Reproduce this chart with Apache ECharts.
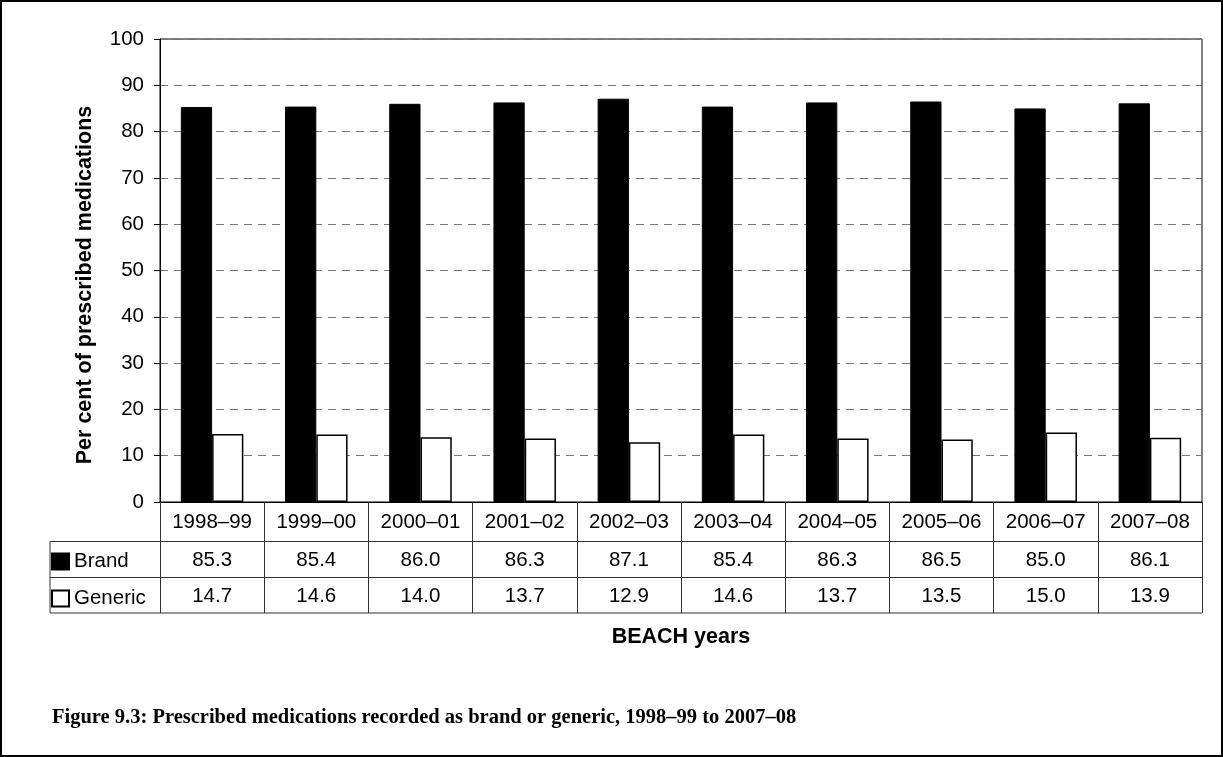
<!DOCTYPE html>
<html>
<head>
<meta charset="utf-8">
<script src="https://cdn.jsdelivr.net/npm/echarts@6/dist/echarts.min.js"></script>
<style>
html,body{margin:0;padding:0;background:#fff;}
#chart{width:1223px;height:757px;}
</style>
</head>
<body>
<div id="chart"></div>
<script>
const categories = ['1998–99','1999–00','2000–01','2001–02','2002–03','2003–04','2004–05','2005–06','2006–07','2007–08'];
const brand = [85.3, 85.4, 86.0, 86.3, 87.1, 85.4, 86.3, 86.5, 85.0, 86.1];
const generic = [14.7, 14.6, 14.0, 13.7, 12.9, 14.6, 13.7, 13.5, 15.0, 13.9];
const yTicks = [0,10,20,30,40,50,60,70,80,90,100];

const FONT = '"Liberation Sans", Arial, sans-serif';
const FS = 20.5, FSB = 21.5;
const GL = 160, GR = 1202, GT = 39, GB = 502;
const ROW1 = 541.5, ROW2 = 577.5, ROW3 = 613, TL = 50;
const tableColor = '#333';

const chart = echarts.init(document.getElementById('chart'), null, {renderer:'canvas'});
const legendText = {fontFamily: FONT, fontSize: FS, color: '#000', lineHeight: 16};
const option = {
  animation: false,
  backgroundColor: '#fff',
  grid: {left: GL, right: 1223 - GR, top: GT, bottom: 757 - GB, show: true, borderColor: '#000', borderWidth: 1, backgroundColor: 'transparent'},
  legend: [
    {left: 51, top: 551, itemWidth: 17, itemHeight: 16, padding: 0, icon: 'rect', itemGap: 0,
     textStyle: legendText, data: ['Brand']},
    {left: 51, top: 588, itemWidth: 17, itemHeight: 16, padding: 0, icon: 'rect', itemGap: 0,
     textStyle: legendText, data: ['Generic']}
  ],
  xAxis: [
    {type:'category', data: categories, position:'bottom',
     axisLine:{lineStyle:{color:'#000', width:1}},
     axisTick:{show:true, length: ROW3 - GB, interval:0, lineStyle:{color: tableColor, width:1}},
     axisLabel:{interval:0, margin: 10, fontFamily: FONT, fontSize: FS, color:'#000'}},
    {type:'category', data: categories, position:'bottom', offset: ROW1 - GB,
     axisLine:{show:false}, axisTick:{show:false},
     axisLabel:{interval:0, margin: 8, fontFamily: FONT, fontSize: FS, color:'#000',
       formatter: (v, i) => brand[i].toFixed(1)}},
    {type:'category', data: categories, position:'bottom', offset: ROW2 - GB,
     axisLine:{show:false}, axisTick:{show:false},
     axisLabel:{interval:0, margin: 8, fontFamily: FONT, fontSize: FS, color:'#000',
       formatter: (v, i) => generic[i].toFixed(1)}}
  ],
  yAxis: {
    type:'value', min: yTicks[0], max: yTicks[yTicks.length-1], interval: 10,
    axisLine:{show:true, lineStyle:{color:'#000', width:1}},
    axisTick:{show:true, length:6, lineStyle:{color:'#000'}},
    axisLabel:{margin: 16, fontFamily: FONT, fontSize: FS, color:'#000'},
    splitLine:{show:true, lineStyle:{color:'#777', type:[8,6], width:1}}
  },
  series: [
    {name:'Brand', type:'bar', data: brand, xAxisIndex:0, barCategoryGap:'40%', barGap:'0%',
     itemStyle:{color:'#000', borderColor:'#000', borderWidth:1}},
    {name:'Generic', type:'bar', data: generic, xAxisIndex:0, barCategoryGap:'40%', barGap:'0%',
     itemStyle:{color:'#fff', borderColor:'#000', borderWidth:1.5}}
  ],
  graphic: [
    {type:'rect', shape:{x:1, y:1, width:1221, height:755}, style:{fill:'none', stroke:'#000', lineWidth:2}, z:100},
    {type:'line', shape:{x1:TL, y1:ROW1, x2:GR, y2:ROW1}, style:{stroke:tableColor, lineWidth:1}},
    {type:'line', shape:{x1:TL, y1:ROW2, x2:GR, y2:ROW2}, style:{stroke:tableColor, lineWidth:1}},
    {type:'line', shape:{x1:TL, y1:ROW3, x2:GR, y2:ROW3}, style:{stroke:tableColor, lineWidth:1}},
    {type:'line', shape:{x1:TL, y1:ROW1, x2:TL, y2:ROW3}, style:{stroke:tableColor, lineWidth:1}},
    {type:'text', x: 85, y: 285, rotation: Math.PI/2,
     style:{text:'Per cent of prescribed medications', font:'bold ' + FSB + 'px ' + FONT, fill:'#000', textAlign:'center', textVerticalAlign:'middle'}},
    {type:'text', x: (GL+GR)/2, y: 637,
     style:{text:'BEACH years', font:'bold ' + FSB + 'px ' + FONT, fill:'#000', textAlign:'center', textVerticalAlign:'middle'}},
    {type:'text', x: 52, y: 718,
     style:{text:'Figure 9.3: Prescribed medications recorded as brand or generic, 1998–99 to 2007–08', font:'bold 20.5px "Liberation Serif", serif', fill:'#000', textAlign:'left', textVerticalAlign:'middle'}}
  ]
};
chart.setOption(option);
</script>
</body>
</html>
